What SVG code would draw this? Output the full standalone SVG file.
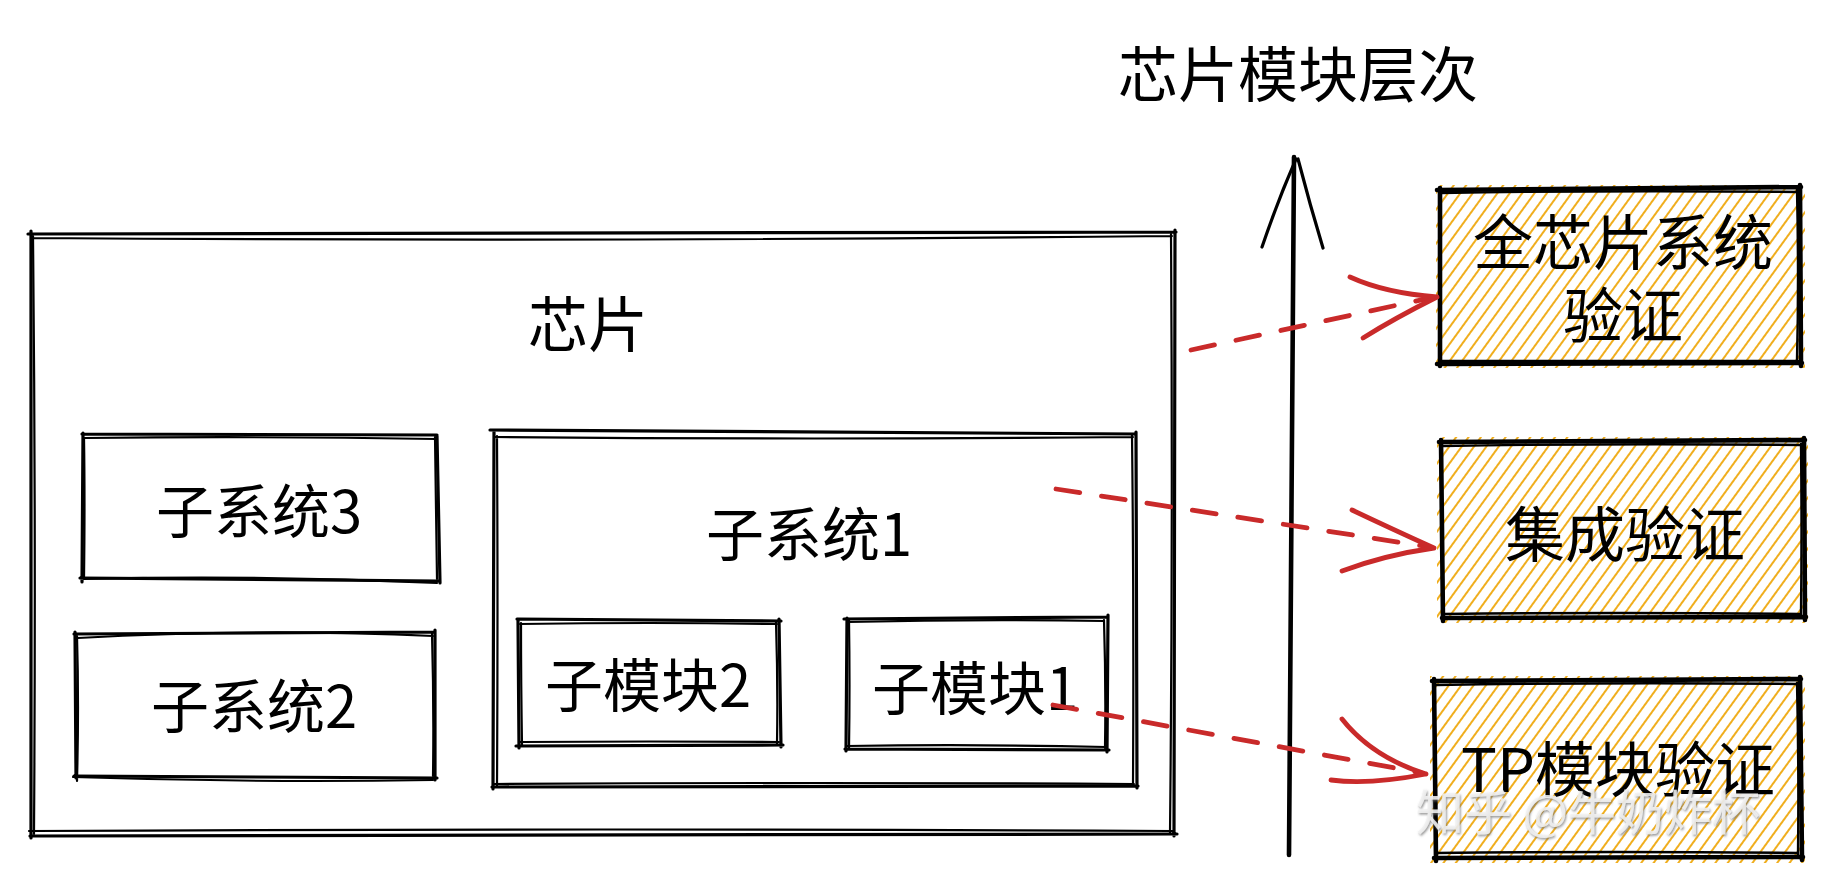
<svg xmlns="http://www.w3.org/2000/svg" width="1828" height="886" viewBox="0 0 1828 886">
<style>
.sk{fill:none;stroke:#000;stroke-width:3.2;stroke-linecap:round;stroke-linejoin:round}
.sk2{fill:none;stroke:#000;stroke-width:2.2;stroke-linecap:round}
.hk{fill:none;stroke:#000;stroke-width:4.6;stroke-linecap:round}
.hk2{fill:none;stroke:#000;stroke-width:2.4;stroke-linecap:round}
.t{font-family:"Noto Sans CJK SC","Noto Sans",sans-serif;font-size:58px;fill:#000;text-anchor:middle}
.tb{font-size:60px}
.ra{fill:none;stroke:#c92a2a;stroke-width:4.8;stroke-linecap:round}
.rd{stroke-dasharray:24 22}
.wm{font-family:"Noto Sans CJK SC",sans-serif;font-size:48px;fill:#f2f2f2;fill-opacity:0.85;text-anchor:middle}
</style>
<defs>
<pattern id="hatch" patternUnits="userSpaceOnUse" width="10" height="10" patternTransform="rotate(36)">
<line x1="5" y1="-1" x2="5" y2="11" stroke="#f0ae1e" stroke-width="2"/>
</pattern>
<filter id="wmsh" x="-10%" y="-20%" width="120%" height="140%">
<feDropShadow dx="1" dy="1.5" stdDeviation="1" flood-color="#777" flood-opacity="0.9"/>
</filter>
</defs>
<rect width="1828" height="886" fill="#fff"/>

<g id="title">
<text class="t tb" x="1298" y="97">芯片模块层次</text>
</g>

<g id="chip">
<path class="sk" d="M28,234 L1176,232 M1175,230 L1174,836 M1177,834 L30,836 M31,838 L31,231"/>
<path class="sk2" d="M32,238 Q600,242 1172,236 M1171,234 Q1173,540 1170,833 M1173,831 Q600,828 29,831 M34,834 Q36,530 33,236"/>
<text class="t tb" x="588" y="347">芯片</text>
</g>

<g id="subsys3">
<path class="sk" d="M82,434 L437,435 M437,436 L440,583 M438,581 L80,578 M82,582 L83,433"/>
<path class="sk2" d="M85,438 Q260,436 436,439 M435,437 Q436,510 437,579 M437,583 Q260,575 84,579 M84,579 Q85,500 84,438"/>
<text class="t" x="259" y="533">子系统3</text>
</g>

<g id="subsys2">
<path class="sk" d="M74,634 L435,632 M435,630 L435,780 M437,778 L74,776 M76,778 L75,632"/>
<path class="sk2" d="M78,638 Q260,628 433,636 M432,633 Q434,705 433,776 M433,780 Q255,783 73,777 M77,781 Q79,705 77,636"/>
<text class="t" x="254" y="728">子系统2</text>
</g>

<g id="subsys1">
<path class="sk" d="M490,430 L1136,434 M1136,432 L1137,788 M1138,786 L492,787 M493,789 L494,432"/>
<path class="sk2" d="M494,437 Q815,440 1133,437 M1132,435 Q1134,610 1133,784 M1134,784 Q815,782 494,784 M497,786 Q498,610 497,436"/>
<text class="t" x="809" y="556">子系统1</text>
</g>

<g id="submod2">
<path class="sk" d="M517,619 L781,621 M779,619 L781,747 M783,745 L516,746 M519,748 L518,620"/>
<path class="sk2" d="M520,624 Q650,622 777,624 M776,622 Q778,685 777,744 M779,742 Q650,741 520,742 M522,745 Q521,682 521,623"/>
<text class="t" x="648" y="707">子模块2</text>
</g>

<g id="submod1">
<path class="sk" d="M844,619 L1107,617 M1108,615 L1107,752 M1109,750 L845,749 M846,751 L847,618"/>
<path class="sk2" d="M848,622 Q975,619 1104,621 M1104,620 Q1106,685 1105,748 M1106,747 Q975,744 846,746 M849,749 Q850,685 849,620"/>
<text class="t" x="975" y="710">子模块1</text>
</g>

<g id="verify-full">
<rect x="1436" y="185" width="369" height="183" fill="url(#hatch)"/>
<path class="hk" d="M1437,190 L1801,187 M1800,185 L1801,366 M1802,363 L1437,364 M1440,366 L1440,188"/>
<path class="hk2" d="M1441,193 Q1620,190 1798,192 M1797,190 Q1799,280 1797,360 M1798,361 Q1620,361 1441,361"/>
<text class="t tb" x="1623" y="265">全芯片系统</text>
<text class="t tb" x="1623" y="338">验证</text>
</g>

<g id="verify-integ">
<rect x="1437" y="437" width="371" height="186" fill="url(#hatch)"/>
<path class="hk" d="M1439,442 L1805,440 M1804,438 L1805,620 M1806,617 L1442,618 M1443,621 L1441,440"/>
<path class="hk2" d="M1443,446 Q1620,443 1801,445 M1801,444 Q1802,530 1801,615 M1801,614 Q1620,612 1443,614"/>
<text class="t tb" x="1625" y="557">集成验证</text>
</g>

<g id="verify-ip">
<rect x="1430" y="676" width="375" height="187" fill="url(#hatch)"/>
<path class="hk" d="M1432,681 L1801,679 M1800,677 L1802,860 M1803,857 L1434,858 M1436,861 L1434,679"/>
<path class="hk2" d="M1436,685 Q1615,682 1797,684 M1797,683 Q1799,770 1798,855 M1798,853 Q1615,851 1436,853"/>
<text class="t tb" x="1618" y="792">TP模块验证</text>
</g>

<g id="connectors">
<path class="hk" d="M1294,157 L1289,855"/>
<path class="sk" d="M1262,247 Q1278,200 1296,159 M1323,248 Q1310,205 1298,159"/>
<path class="ra rd" d="M1191,350 L1430,298"/>
<path class="ra" d="M1350,277 Q1385,293 1437,297 M1363,338 Q1395,318 1437,297"/>
<path class="ra rd" d="M1056,489 L1430,547"/>
<path class="ra" d="M1352,510 Q1390,528 1434,548 M1342,571 Q1385,555 1434,548"/>
<path class="ra rd" d="M1053,705 L1422,773"/>
<path class="ra" d="M1342,719 Q1372,757 1426,774 M1331,780 Q1370,785 1426,774"/>
</g>

<g id="watermark">
<text class="wm" x="1588" y="830" filter="url(#wmsh)">知乎 @牛奶炸杯</text>
</g>
</svg>
